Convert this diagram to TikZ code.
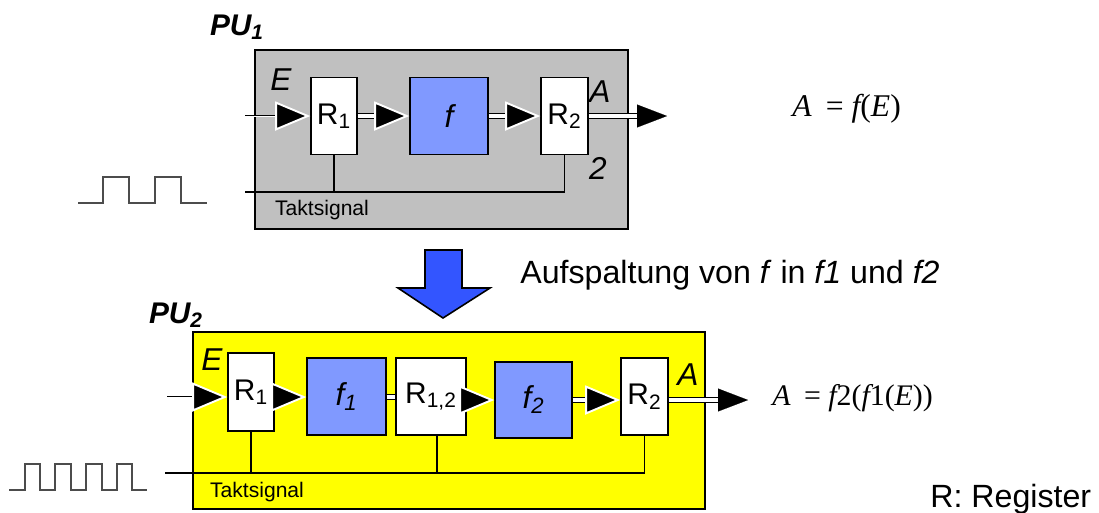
\documentclass[tikz,border=0pt]{standalone}
\usepackage{fontspec}
\setmainfont{Liberation Sans}
\newfontfamily\timesf{Liberation Serif}
\usetikzlibrary{arrows.meta}
\definecolor{fblue}{RGB}{128,153,255}
\definecolor{bigblue}{RGB}{51,85,255}
\definecolor{pugray}{RGB}{192,192,192}
\definecolor{puyellow}{RGB}{255,255,0}
\begin{document}
\begin{tikzpicture}[x=0.02cm,y=-0.02cm,
  unitbox/.style={draw, line width=1.1pt, inner sep=0pt},
  reg/.style={draw, line width=0.8pt, fill=white, inner sep=0pt, minimum height=77*0.02cm, font=\fontsize{17}{20}\selectfont},
  func/.style={draw, line width=0.8pt, fill=fblue, inner sep=0pt, minimum height=77*0.02cm, font=\fontsize{18}{20}\selectfont\itshape},
  wire/.style={draw=black, line width=0.85pt, double=white, double distance=1.8pt},
  tipw/.style={draw=white, line width=0.2pt, -{Triangle[length=20pt,width=16.5pt,fill=black,color=white,line width=1.1pt]}},
  tipo/.style={draw=white, line width=0.2pt, -{Triangle[length=17pt,width=13pt,fill=black,color=black,line width=0.1pt]}},
  inwire/.style={draw=black, line width=1.6pt},
  clk/.style={draw=black, line width=1pt},
  wave/.style={draw=black!70, line width=0.7pt},
  lbl/.style={inner sep=0pt, font=\fontsize{18}{20}\selectfont\itshape},
  pulbl/.style={inner sep=0pt, font=\fontsize{17}{20}\selectfont\bfseries\itshape},
  takt/.style={inner sep=0pt, font=\fontsize{12}{14}\selectfont},
  big/.style={inner sep=0pt, font=\fontsize{18.3}{21}\selectfont},
  formula/.style={inner sep=0pt, font=\fontsize{18}{20}\timesf}
]
\useasboundingbox (0,0) rectangle (1099,512);

% ---------- PU1 ----------
\node[unitbox, fill=pugray, minimum width=373*0.02cm, minimum height=179*0.02cm] (pu1) at (441.5,139.5) {};
\node[reg, minimum width=46*0.02cm] (r1) at (334,116) {R\textsubscript{1}};
\node[func, minimum width=78*0.02cm] (f) at (449,116) {f};
\node[reg, minimum width=47*0.02cm] (r2) at (564.5,116) {R\textsubscript{2}};
\coordinate (in1) at (245,116);
\coordinate (out1) at (667,116);
\coordinate (clk1) at (245,192);

\draw[inwire, shorten >=8pt] (in1) -- (r1.west);
\draw[tipw] (in1) -- (r1.west);
\draw[wire, shorten >=10pt] (r1.east) -- (f.west);
\draw[tipw] (r1.east) -- (f.west);
\draw[wire, shorten >=10pt] (f.east) -- (r2.west);
\draw[tipw] (f.east) -- (r2.west);
\draw[wire, shorten >=8pt] (r2.east) -- (out1);
\draw[tipo] (r2.east) -- (out1);
\draw[clk] (clk1) -| (r2.south);
\draw[clk] (r1.south) -- (r1.south |- clk1);

\node[pulbl] (pu1lbl) at (237,27) {PU\textsubscript{1}};
\node[lbl] (e1) at (281,80) {E};
\node[lbl] (a1) at (600,92) {A};
\node[lbl] (two) at (598,168) {2};
\node[takt] (takt1) at (322,210) {Taktsignal};

\draw[wave] (78,203) -- (103,203) -- (103,177) -- (129,177) -- (129,203) -- (155,203) -- (155,177) -- (181,177) -- (181,203) -- (207,203);

\node[formula, anchor=base west] (eq1) at (792,116) {\itshape A\hspace{0.45em}\upshape= \itshape f\upshape(\itshape E\upshape)};

% ---------- transition ----------
\draw[line width=0.9pt, fill=bigblue] (425,250) -- (462,250) -- (462,288) -- (490,288) -- (443,318) -- (398,288) -- (425,288) -- cycle;
\node[big, anchor=base west] (split) at (520,283) {Aufspaltung von \textit{f} in \textit{f1} und \textit{f2}};

% ---------- PU2 ----------
\node[unitbox, fill=puyellow, minimum width=512*0.02cm, minimum height=177*0.02cm] (pu2) at (449,420.5) {};
\node[reg, minimum width=46*0.02cm, minimum height=78*0.02cm] (r1b) at (251,392) {R\textsubscript{1}};
\node[func, minimum width=79*0.02cm] (f1) at (346.5,396.5) {f\textsubscript{1}};
\node[reg, minimum width=70*0.02cm] (r12) at (431,396.5) {R\textsubscript{1,2}};
\node[func, minimum width=77*0.02cm, minimum height=76*0.02cm] (f2) at (533.5,400) {f\textsubscript{2}};
\node[reg, minimum width=47*0.02cm] (r2b) at (644.5,396.5) {R\textsubscript{2}};
\coordinate (in2) at (167,397);
\coordinate (out2) at (748,400);
\coordinate (clk2) at (165,473);

\draw[inwire, shorten >=8pt] (in2) -- (r1b.west |- in2);
\draw[tipw] (in2) -- (r1b.west |- in2);
\draw[wire, shorten >=10pt] (r1b.east |- in2) -- (f1.west |- in2);
\draw[tipw] (r1b.east |- in2) -- (f1.west |- in2);
\draw[wire] (f1.east |- in2) -- (r12.west |- in2);
\draw[wire, shorten >=10pt] (r12.east |- f2) -- (f2.west);
\draw[tipw] (r12.east |- f2) -- (f2.west);
\draw[wire, shorten >=10pt] (f2.east) -- (r2b.west |- f2);
\draw[tipw] (f2.east) -- (r2b.west |- f2);
\draw[wire, shorten >=8pt] (r2b.east |- out2) -- (out2);
\draw[tipo] (r2b.east |- out2) -- (out2);
\draw[clk] (clk2) -| (r2b.south);
\draw[clk] (r1b.south) -- (r1b.south |- clk2);
\draw[clk] ([xshift=6*0.02cm]r12.south) -- ([xshift=6*0.02cm]r12.south |- clk2);

\node[pulbl] (pu2lbl) at (176,315) {PU\textsubscript{2}};
\node[lbl] (e2) at (212,360) {E};
\node[lbl] (a2) at (688,375) {A};
\node[takt] (takt2) at (257,492) {Taktsignal};

\draw[wave] (9,490) -- (25,490) -- (25,464) -- (40,464) -- (40,490) -- (55,490) -- (55,464) -- (71,464) -- (71,490) -- (86,490) -- (86,464) -- (102,464) -- (102,490) -- (117,490) -- (117,464) -- (132,464) -- (132,490) -- (147,490);

\node[formula, anchor=base west, font=\fontsize{17}{20}\timesf] (eq2) at (772,405) {\itshape A\hspace{0.45em}\upshape= \itshape f\upshape2(\itshape f\upshape1(\itshape E\upshape))};
\node[big, anchor=base west] (legend) at (930,507) {R: Register};
\end{tikzpicture}
\end{document}
